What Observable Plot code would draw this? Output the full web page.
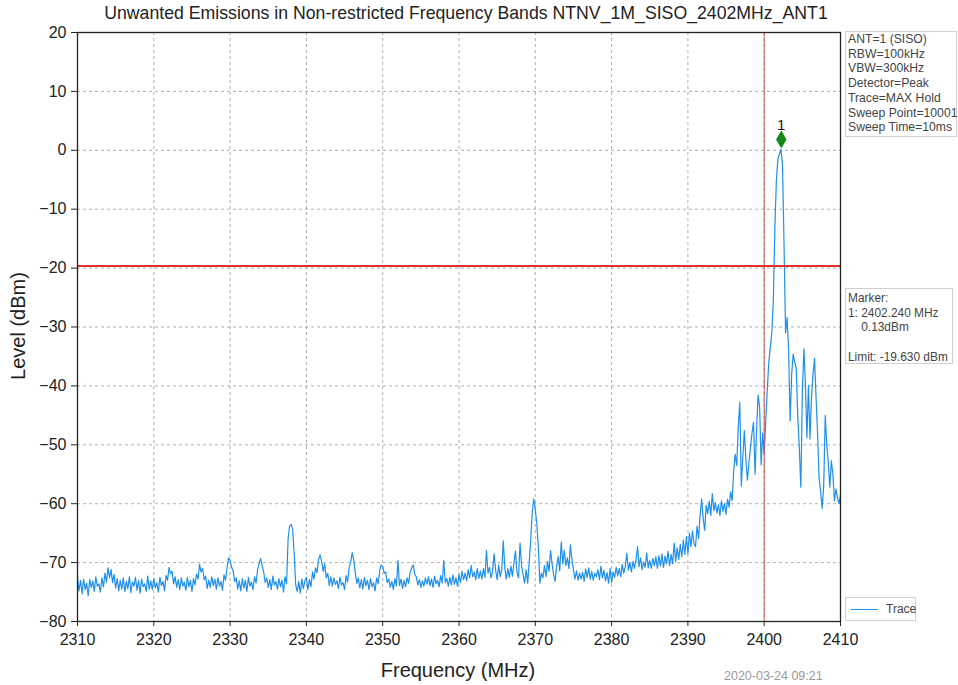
<!DOCTYPE html>
<html>
<head>
<meta charset="utf-8">
<script src="https://cdn.jsdelivr.net/npm/d3@7"></script>
<script src="https://cdn.jsdelivr.net/npm/@observablehq/plot@0.6"></script>
<style>
  body { margin: 0; background: #fff; font-family: "Liberation Sans", Arial, sans-serif; }
  #wrap { position: relative; width: 958px; height: 685px; overflow: hidden; background: #fff; }
  #chart { position: absolute; left: 0; top: 0; }
  .abs { position: absolute; white-space: pre; }
  #title { left: 0; top: 3px; width: 932px; text-align: center; font-size: 17.7px; color: #222; }
  #ylabel { left: -82px; top: 314px; width: 200px; height: 24px; line-height: 24px; text-align: center; font-size: 20px; color: #222; transform: rotate(-90deg); }
  #xlabel { left: 358px; top: 658px; width: 200px; text-align: center; font-size: 20px; line-height: 24px; color: #222; }
  #stamp { left: 724px; top: 669px; font-size: 12.5px; color: #999; }
  .box { border: 1px solid #cfcfcf; background: #fff; line-height: 14.7px; color: #444; padding: 0 2px; box-sizing: border-box; }
  #info { left: 845px; top: 31px; width: 112px; height: 106px; padding-top: 0px; font-size: 12.2px; }
  #mbox { left: 845px; top: 288px; width: 108px; height: 76px; padding-top: 2px; font-size: 11.9px; }
  #legend { left: 845px; top: 597px; width: 71px; height: 24px; }
  #legend .sw { position: absolute; left: 5px; top: 11px; width: 27px; height: 0; border-top: 1.3px solid #1f8fef; }
  #legend .lt { position: absolute; left: 40px; top: 4px; font-size: 12px; color: #444; }
</style>
</head>
<body>
<div id="wrap">
  <div id="chart"></div>
  <div id="title" class="abs"></div>
  <div id="ylabel" class="abs"></div>
  <div id="xlabel" class="abs"></div>
  <div id="stamp" class="abs"></div>
  <div id="info" class="abs box"></div>
  <div id="mbox" class="abs box"></div>
  <div id="legend" class="abs box"><div class="sw"></div><div class="lt"></div></div>
</div>
<script>
// ---- data ----
const titleText = "Unwanted Emissions in Non-restricted Frequency Bands NTNV_1M_SISO_2402MHz_ANT1";
const xLabel = "Frequency (MHz)";
const yLabel = "Level (dBm)";
const stampText = "2020-03-24 09:21";
const infoLines = ["ANT=1 (SISO)", "RBW=100kHz", "VBW=300kHz", "Detector=Peak", "Trace=MAX Hold", "Sweep Point=10001", "Sweep Time=10ms"];
const markerLines = ["Marker:", "1: 2402.240 MHz", "    0.13dBm", "", "Limit: -19.630 dBm"];
const legendLabel = "Trace";

const xTicks = [2310, 2320, 2330, 2340, 2350, 2360, 2370, 2380, 2390, 2400, 2410];
const yTicks = [-80, -70, -60, -50, -40, -30, -20, -10, 0, 10, 20];

const limitLevel = -19.63;
const bandEdge = 2400;
const markerFreq = 2402.24;
const markerLevel = 0.13;
const markerLabel = "1";

// sweep: start 2310 MHz, 0.2 MHz per read sample
const startFreq = 2310;
const stepFreq = 0.2;
const levels = [
  -72.5,-74.8,-73.0,-75.3,-72.8,-74.6,-73.5,-75.6,-72.9,-74.2,
  -73.1,-74.9,-72.4,-74.0,-73.6,-75.0,-72.6,-74.1,-71.8,-73.3,
  -70.9,-72.6,-71.2,-73.4,-72.0,-74.3,-72.7,-74.8,-73.0,-74.5,
  -72.6,-74.9,-73.2,-74.4,-72.4,-75.1,-73.3,-74.0,-72.5,-74.7,
  -73.0,-75.2,-72.8,-74.1,-73.6,-74.9,-72.3,-74.5,-73.1,-74.6,
  -72.7,-74.3,-73.4,-75.0,-72.5,-73.9,-73.2,-74.8,-72.2,-73.0,
  -70.8,-71.9,-71.5,-73.6,-72.4,-74.2,-72.9,-74.6,-72.6,-74.0,
  -73.3,-74.7,-72.5,-74.1,-73.0,-74.9,-72.7,-73.8,-71.9,-72.8,
  -70.3,-71.6,-71.0,-72.9,-72.3,-74.4,-73.0,-74.2,-72.4,-73.9,
  -72.8,-74.5,-72.6,-74.0,-73.2,-74.7,-72.1,-73.0,-70.8,-69.2,
  -69.6,-70.8,-71.4,-73.2,-72.6,-74.5,-73.1,-74.8,-72.7,-74.3,
  -73.0,-74.9,-72.5,-74.0,-73.3,-74.6,-72.4,-73.5,-71.2,-70.2,
  -69.3,-70.5,-71.6,-73.4,-72.6,-74.2,-72.9,-74.6,-72.3,-73.8,
  -73.2,-74.5,-72.7,-74.1,-73.0,-75.0,-72.4,-73.6,-66.0,-63.8,
  -63.5,-64.3,-68.5,-73.8,-74.9,-73.2,-75.2,-72.8,-74.4,-73.1,
  -72.5,-74.6,-72.9,-74.1,-71.6,-72.8,-70.9,-71.7,-69.4,-68.7,
  -69.8,-71.5,-70.2,-72.6,-71.8,-73.9,-72.4,-74.0,-72.6,-73.7,
  -73.1,-74.4,-72.5,-73.8,-73.4,-74.6,-72.2,-73.3,-70.8,-70.0,
  -68.3,-69.5,-71.7,-73.5,-72.6,-74.3,-72.9,-74.5,-72.5,-73.9,
  -73.0,-74.6,-72.7,-74.1,-73.4,-74.8,-72.6,-73.6,-71.4,-70.4,
  -70.7,-71.8,-71.6,-73.4,-72.8,-74.2,-73.2,-74.6,-72.7,-74.0,
  -69.6,-73.9,-72.8,-74.4,-73.0,-74.1,-72.6,-73.5,-71.6,-70.9,
  -70.4,-72.0,-72.4,-73.8,-72.9,-74.2,-73.1,-74.0,-72.6,-73.7,
  -72.4,-73.9,-72.8,-74.2,-72.3,-73.6,-73.0,-74.1,-72.2,-73.5,
  -69.6,-73.4,-72.7,-74.0,-72.5,-73.8,-72.1,-73.7,-72.6,-74.0,
  -72.0,-73.4,-71.5,-72.9,-71.8,-73.1,-71.2,-72.6,-70.5,-72.4,
  -71.6,-72.9,-71.0,-72.7,-71.4,-72.8,-71.0,-72.5,-67.9,-71.8,
  -70.8,-72.6,-71.5,-68.5,-71.3,-72.9,-70.4,-72.4,-71.2,-66.3,
  -70.9,-72.8,-71.0,-72.5,-70.6,-72.3,-70.1,-68.0,-71.7,-72.6,
  -66.7,-70.5,-72.1,-73.5,-71.2,-73.5,-70.0,-66.0,-61.5,-59.2,
  -61.0,-63.4,-67.5,-73.5,-71.8,-72.6,-70.5,-72.4,-69.8,-71.5,
  -67.9,-70.2,-72.0,-73.2,-70.5,-69.0,-71.4,-66.5,-70.2,-67.9,
  -70.5,-69.2,-71.0,-67.0,-69.5,-71.2,-72.8,-71.4,-73.0,-71.8,
  -72.8,-71.6,-73.2,-71.1,-72.5,-70.9,-72.8,-71.5,-73.0,-71.8,
  -72.4,-71.2,-72.9,-70.6,-72.6,-71.3,-73.1,-71.7,-73.5,-71.0,
  -73.4,-71.6,-72.5,-70.8,-72.2,-71.0,-72.4,-70.3,-71.8,-70.6,
  -68.4,-71.3,-70.0,-71.6,-69.8,-71.0,-69.5,-67.3,-70.7,-69.2,
  -71.2,-69.9,-70.8,-68.4,-70.9,-69.6,-71.0,-69.3,-70.5,-69.0,
  -71.0,-68.8,-70.6,-68.5,-70.8,-68.9,-70.2,-68.1,-70.5,-68.6,
  -70.2,-66.7,-69.8,-67.5,-69.5,-66.9,-69.0,-66.2,-68.6,-65.6,
  -68.5,-65.0,-67.3,-64.6,-66.8,-67.3,-63.8,-65.9,-62.0,-59.2,
  -62.5,-64.5,-60.3,-61.7,-59.6,-62.0,-58.3,-61.2,-59.8,-61.6,
  -60.2,-62.0,-59.5,-61.3,-60.0,-61.8,-59.2,-60.6,-58.0,-59.5,
  -54.4,-51.6,-53.5,-47.0,-42.8,-57.0,-52.0,-47.6,-52.5,-56.0,
  -53.0,-50.5,-48.0,-46.2,-55.0,-47.5,-41.6,-43.5,-53.4,-48.0,
  -51.6,-46.0,-40.8,-36.0,-33.5,-30.9,-25.5,-13.0,-5.0,-1.5,
  -0.6,0.13,-2.5,-16.0,-31.0,-28.4,-34.0,-45.9,-38.0,-34.6,
  -36.0,-37.0,-45.3,-50.5,-57.2,-41.0,-33.7,-39.7,-48.8,-39.9,
  -49.0,-42.0,-38.0,-35.3,-42.0,-48.3,-55.7,-58.0,-60.8,-57.0,
  -45.0,-50.0,-53.0,-57.2,-52.7,-55.0,-59.5,-57.5,-59.0,-60.0,
  -58.5
];

// ---- build ----
const trace = levels.map((v, i) => ({ f: startFreq + i * stepFreq, v }));
const marker = [{ f: markerFreq, v: markerLevel, label: markerLabel }];
const fmtY = d => (d < 0 ? "\u2212" + Math.abs(d) : String(d));

const chart = Plot.plot({
  width: 958,
  height: 685,
  marginLeft: 77,
  marginRight: 118,
  marginTop: 32,
  marginBottom: 64,
  style: { fontFamily: "Liberation Sans, Arial, sans-serif", background: "transparent", color: "#222", overflow: "visible" },
  x: { domain: [2310, 2410] },
  y: { domain: [-80, 20] },
  marks: [
    Plot.gridX(xTicks, { stroke: "#999", strokeOpacity: 1, strokeWidth: 0.8, strokeDasharray: "3,3" }),
    Plot.gridY(yTicks, { stroke: "#999", strokeOpacity: 1, strokeWidth: 0.8, strokeDasharray: "3,3" }),
    Plot.line(trace, { x: "f", y: "v", stroke: "#1f8fef", strokeWidth: 1.2 }),
    Plot.ruleX([bandEdge], { stroke: "#c8504a", strokeWidth: 1 }),
    Plot.ruleY([limitLevel], { stroke: "#e2302a", strokeWidth: 2 }),
    Plot.dot(marker, { x: "f", y: "v", symbol: "diamond", r: 4.6, fill: "#168a16", stroke: "#168a16", dy: -10 }),
    Plot.text(marker, { x: "f", y: "v", text: "label", dy: -24, fontSize: 15, fill: "#111" }),
    Plot.frame({ stroke: "#222", strokeWidth: 1.3 }),
    Plot.axisX(xTicks, { tickSize: 5, tickPadding: 7, fontSize: 16, label: null, tickFormat: d => String(d), stroke: "#222" }),
    Plot.axisY(yTicks, { tickSize: 6, tickPadding: 5, fontSize: 16, label: null, tickFormat: fmtY, stroke: "#222" })
  ]
});
document.getElementById("chart").appendChild(chart);

document.getElementById("title").textContent = titleText;
document.getElementById("ylabel").textContent = yLabel;
document.getElementById("xlabel").textContent = xLabel;
document.getElementById("stamp").textContent = stampText;
document.getElementById("info").textContent = infoLines.join("\n");
document.getElementById("mbox").textContent = markerLines.join("\n");
document.querySelector("#legend .lt").textContent = legendLabel;
</script>
</body>
</html>
